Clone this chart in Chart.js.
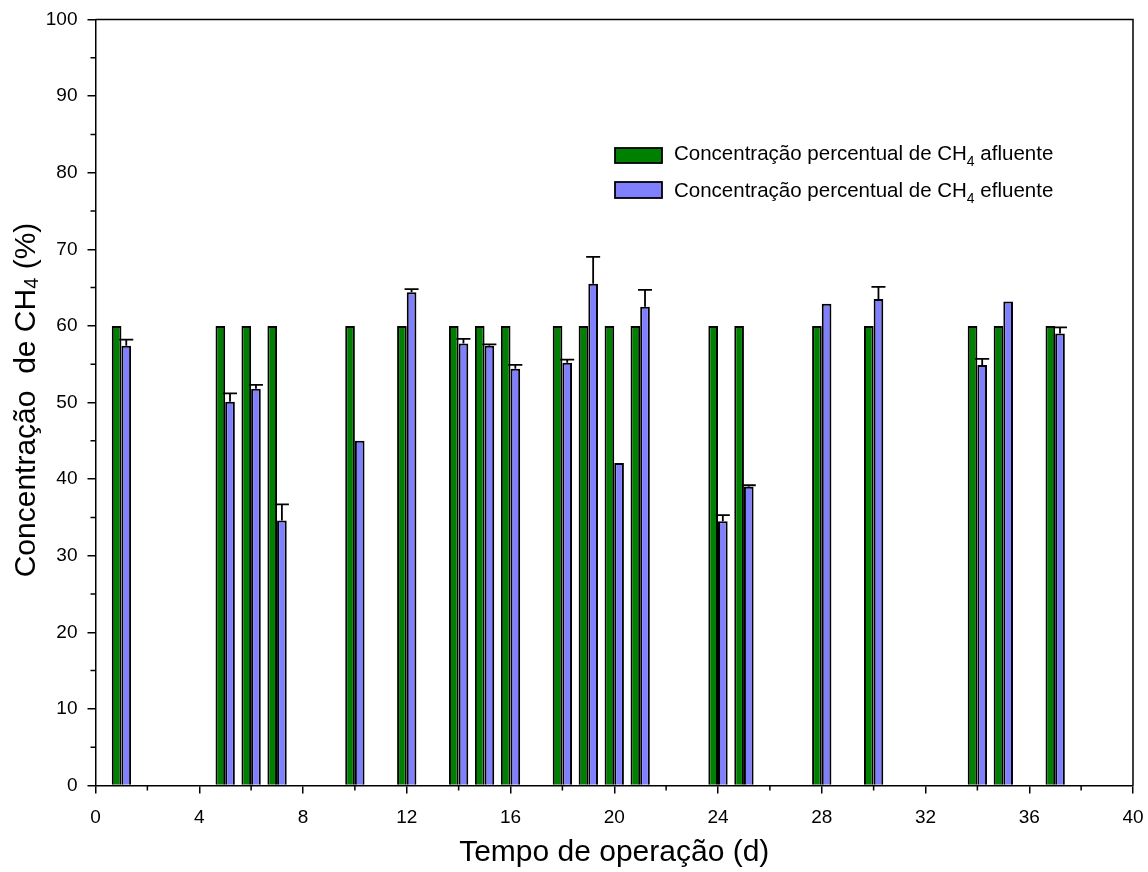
<!DOCTYPE html>
<html>
<head>
<meta charset="utf-8">
<script src="https://cdn.jsdelivr.net/npm/chart.js@4.4.1/dist/chart.umd.min.js"></script>
<style>html,body{margin:0;padding:0;background:#fff;}canvas{display:block;}</style>
</head>
<body>
<canvas id="c" width="1148" height="872"></canvas>
<script>
// ---- data ----
const days = [1, 5, 6, 7, 10, 12, 14, 15, 16, 18, 19, 20, 21, 24, 25, 28, 30, 34, 35, 37];
const afluente = [60, 60, 60, 60, 60, 60, 60, 60, 60, 60, 60, 60, 60, 60, 60, 60, 60, 60, 60, 60];
const efluente = [57.4, 50.1, 51.8, 34.6, 45.0, 64.4, 57.7, 57.4, 54.4, 55.2, 65.5, 42.1, 62.5, 34.5, 39.0, 62.9, 63.5, 54.9, 63.2, 59.0];
const efluenteErr = [0.8, 1.1, 0.5, 2.1, null, 0.4, 0.6, 0.2, 0.5, 0.4, 3.5, null, 2.2, 0.8, 0.2, null, 1.6, 0.8, null, 0.8];
const xTickValues = [0, 4, 8, 12, 16, 20, 24, 28, 32, 36, 40];
const xMinorTicks = [2, 6, 10, 14, 18, 22, 26, 30, 34, 38];
const yTickValues = [0, 10, 20, 30, 40, 50, 60, 70, 80, 90, 100];
const yMinorTicks = [5, 15, 25, 35, 45, 55, 65, 75, 85, 95];
const seriesNames = ['Concentração percentual de CH₄ afluente', 'Concentração percentual de CH₄ efluente'];
const legendPrefix = ['Concentração percentual de CH', 'Concentração percentual de CH'];
const legendSub = ['4', '4'];
const legendSuffix = [' afluente', ' efluente'];
const xTitle = 'Tempo de operação (d)';
const yTitleParts = ['Concentração  de CH', '4', ' (%)'];
const colors = ['#008000', '#8080ff'];

const FONT = '"Liberation Sans", Arial, Helvetica, sans-serif';

const framePlugin = {
  id: 'frame',
  afterDraw(chart) {
    const {ctx, chartArea: a} = chart;
    ctx.save();
    ctx.strokeStyle = '#000';
    ctx.lineWidth = 1.5;
    ctx.beginPath();
    ctx.moveTo(a.left, a.top); ctx.lineTo(a.right, a.top); ctx.lineTo(a.right, a.bottom);
    ctx.stroke();
    // minor ticks
    const xs = chart.scales.x, ys = chart.scales.y;
    ctx.beginPath();
    xMinorTicks.forEach(v => { const p = xs.getPixelForValue(v); ctx.moveTo(p, a.bottom); ctx.lineTo(p, a.bottom + 5); });
    yMinorTicks.forEach(v => { const p = ys.getPixelForValue(v); ctx.moveTo(a.left, p); ctx.lineTo(a.left - 5, p); });
    ctx.stroke();
    ctx.restore();
  }
};

const errorBarPlugin = {
  id: 'errbars',
  afterDatasetsDraw(chart) {
    const {ctx} = chart;
    const meta = chart.getDatasetMeta(1);
    const ys = chart.scales.y;
    ctx.save();
    ctx.strokeStyle = '#000';
    ctx.lineWidth = 1.8;
    meta.data.forEach((bar, i) => {
      const e = efluenteErr[i];
      if (e == null) return;
      const top = ys.getPixelForValue(efluente[i] + e);
      const x = bar.x;
      ctx.beginPath();
      ctx.moveTo(x, bar.y); ctx.lineTo(x, top);
      ctx.moveTo(x - 7, top); ctx.lineTo(x + 7, top);
      ctx.stroke();
    });
    ctx.restore();
  }
};

const legendPlugin = {
  id: 'customLegend',
  afterDraw(chart) {
    const {ctx} = chart;
    const boxes = [[615, 148, 47, 15], [615, 182, 47, 16]];
    const baselines = [159.5, 196.5];
    ctx.save();
    for (let i = 0; i < 2; i++) {
      const [bx, by, bw, bh] = boxes[i];
      ctx.fillStyle = colors[i];
      ctx.fillRect(bx, by, bw, bh);
      ctx.strokeStyle = '#000';
      ctx.lineWidth = 1.8;
      ctx.strokeRect(bx, by, bw, bh);
      ctx.fillStyle = '#000';
      ctx.textBaseline = 'alphabetic';
      ctx.textAlign = 'left';
      let x = 674;
      ctx.font = '20.5px ' + FONT;
      ctx.fillText(legendPrefix[i], x, baselines[i]);
      x += ctx.measureText(legendPrefix[i]).width;
      ctx.font = '14px ' + FONT;
      ctx.fillText(legendSub[i], x, baselines[i] + 6);
      x += ctx.measureText(legendSub[i]).width;
      ctx.font = '20.5px ' + FONT;
      ctx.fillText(legendSuffix[i], x, baselines[i]);
    }
    ctx.restore();
  }
};

const yTitlePlugin = {
  id: 'yTitle',
  afterDraw(chart) {
    const {ctx} = chart;
    ctx.save();
    ctx.translate(27, 400);
    ctx.rotate(-Math.PI / 2);
    ctx.fillStyle = '#000';
    ctx.textBaseline = 'middle';
    ctx.textAlign = 'left';
    const big = '30px ' + FONT, small = '20px ' + FONT;
    ctx.font = big; const w1 = ctx.measureText(yTitleParts[0]).width; const w3 = ctx.measureText(yTitleParts[2]).width;
    ctx.font = small; const w2 = ctx.measureText(yTitleParts[1]).width;
    let x = -(w1 + w2 + w3) / 2;
    ctx.font = big; ctx.fillText(yTitleParts[0], x, 0); x += w1;
    ctx.font = small; ctx.fillText(yTitleParts[1], x, 5); x += w2;
    ctx.font = big; ctx.fillText(yTitleParts[2], x, 0);
    ctx.restore();
  }
};

const axisCommon = {
  grid: {display: true, drawOnChartArea: false, drawTicks: true, tickLength: 8, color: '#000', lineWidth: 1.5, offset: false},
  border: {display: true, color: '#000', width: 1.5}
};

new Chart(document.getElementById('c').getContext('2d'), {
  type: 'bar',
  data: {
    datasets: [0, 1].map(k => ({
      label: seriesNames[k],
      data: days.map((d, i) => ({x: d, y: (k === 0 ? afluente : efluente)[i]})),
      backgroundColor: colors[k],
      borderColor: '#000',
      borderWidth: 2,
      categoryPercentage: 0.745,
      barPercentage: 1.0
    }))
  },
  options: {
    responsive: false,
    animation: false,
    devicePixelRatio: 1,
    layout: {padding: {left: 0, right: 15, top: 19.5, bottom: 0}},
    plugins: {legend: {display: false}, tooltip: {enabled: false}},
    scales: {
      x: Object.assign({}, axisCommon, {
        type: 'linear', min: 0, max: 40, offset: false,
        afterBuildTicks: s => { s.ticks = xTickValues.map(v => ({value: v})); },
        afterFit: s => { s.height = 86.5; s.paddingLeft = 0; s.paddingRight = 0; },
        ticks: {font: {family: FONT, size: 19}, color: '#000', padding: 13, maxRotation: 0, autoSkip: false},
        title: {display: true, text: xTitle, font: {family: FONT, size: 30}, color: '#000', padding: {top: 0, bottom: 1.5}}
      }),
      y: Object.assign({}, axisCommon, {
        type: 'linear', min: 0, max: 100,
        afterBuildTicks: s => { s.ticks = yTickValues.map(v => ({value: v})); },
        afterFit: s => { s.width = 95.5; s.paddingTop = 0; s.paddingBottom = 0; },
        ticks: {font: {family: FONT, size: 19}, color: '#000', padding: 10, autoSkip: false}
      })
    }
  },
  plugins: [framePlugin, errorBarPlugin, legendPlugin, yTitlePlugin]
});
</script>
</body>
</html>
